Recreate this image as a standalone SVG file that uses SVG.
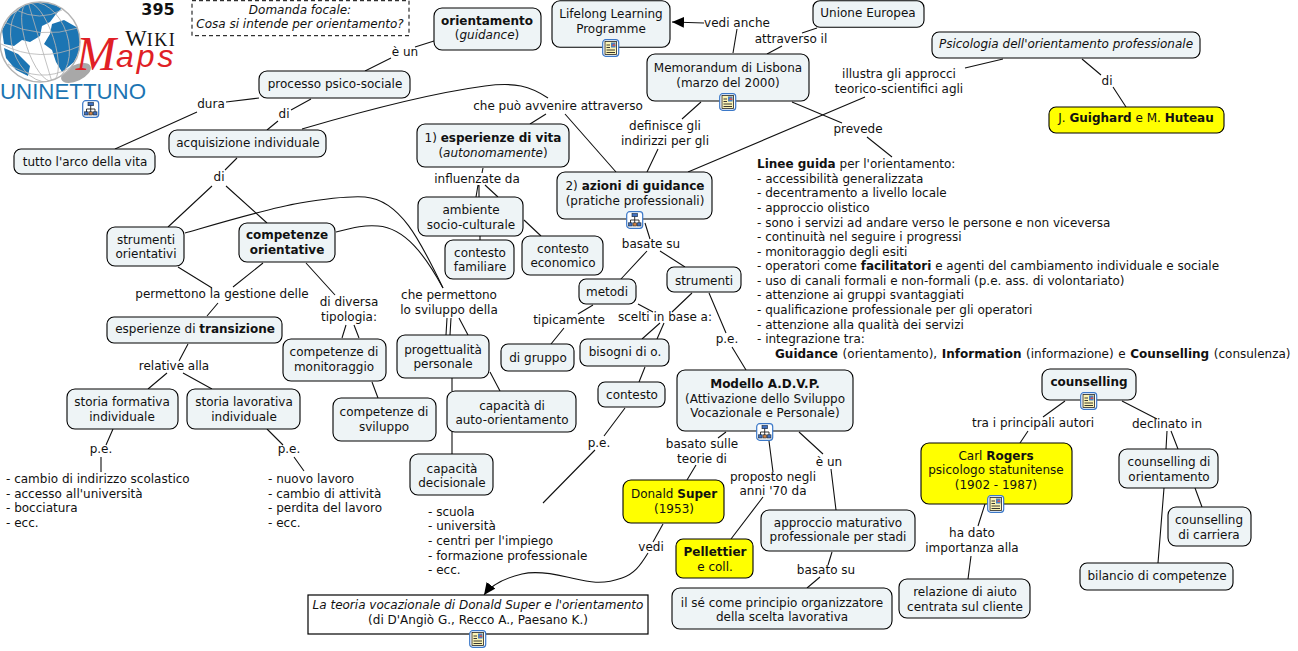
<svg xmlns="http://www.w3.org/2000/svg" xmlns:xlink="http://www.w3.org/1999/xlink" width="1298" height="651" viewBox="0 0 1298 651">
<style>
text{font-family:"DejaVu Sans","Liberation Sans",sans-serif;font-size:12px;fill:#111}
.m{text-anchor:middle}
.b{font-weight:bold}
.i{font-style:italic}
.n{fill:#eef4f6;stroke:#000;stroke-width:1.1}
.y{fill:#ffff00;stroke:#000;stroke-width:1.1}
#connectors path{fill:none;stroke:#111;stroke-width:1.1}
.g{fill:none;stroke:#b4b4b4;stroke-width:0.8}
</style>
<defs>
<marker id="arr" markerUnits="userSpaceOnUse" markerWidth="14" markerHeight="12" refX="12" refY="5.5" orient="auto"><path d="M0,0L12,5.5L0,11z" fill="#000"/></marker>
<clipPath id="gc"><circle cx="40" cy="42" r="40"/></clipPath>
<g id="doc"><rect x="0.7" y="0.7" width="16" height="16.6" rx="3" fill="#fff" stroke="#3b78c8" stroke-width="1.2"/><rect x="3" y="2.5" width="11.5" height="13" fill="#fbf3b4" stroke="#222" stroke-width="0.8"/><path d="M4.5,6H8M4.5,8.5H8M4.5,11H13M4.5,13.5H13" stroke="#222" stroke-width="0.9"/><rect x="9" y="3.5" width="4.5" height="5" fill="#4a7fc0"/><path d="M10,7l2,-2.5l1.5,2.5z" fill="#d05555"/></g>
<g id="hier"><rect x="0.7" y="0.7" width="16" height="16.6" rx="3" fill="#fff" stroke="#3b78c8" stroke-width="1.2"/><path d="M8.7,5V9M4.5,12V9H13V12M8.7,9V12" fill="none" stroke="#222" stroke-width="0.9"/><rect x="6" y="2.5" width="5.5" height="3.2" fill="#3f6fc0" stroke="#123" stroke-width="0.6"/><rect x="2.5" y="11.8" width="3.6" height="3.2" fill="#3f6fc0" stroke="#123" stroke-width="0.6"/><rect x="7" y="11.8" width="3.6" height="3.2" fill="#d08040" stroke="#123" stroke-width="0.6"/><rect x="11.4" y="11.8" width="3.6" height="3.2" fill="#3f6fc0" stroke="#123" stroke-width="0.6"/></g>
</defs>
<rect width="1298" height="651" fill="#fff"/>

<g id="logo">
<ellipse cx="76" cy="73" rx="16" ry="8" fill="#a8a8a8" transform="rotate(-25 76 73)"/>
<circle cx="40" cy="42" r="40" fill="#fff"/>
<g clip-path="url(#gc)">
<path d="M2,30L10,16L26,4L44,0L62,8L56,14L50,22L42,26L40,36L30,42L22,40L14,46L4,44z" fill="#1c75b3"/>
<path d="M52,24L64,20L78,28L82,46L74,62L62,72L56,62L52,50L44,44L50,34z" fill="#1c75b3"/>
<path d="M4,48L18,54L30,66L28,76L16,70L6,58z" fill="#1c75b3"/>
<ellipse class="g" cx="40" cy="42" rx="14" ry="41" transform="rotate(-18 40 42)"/>
<ellipse class="g" cx="40" cy="42" rx="28" ry="41" transform="rotate(-18 40 42)"/>
<path class="g" d="M28,2L52,82M4,22Q40,40 78,28M1,44Q40,64 80,46M8,64Q40,84 70,68M16,10Q40,22 62,10"/>
</g>
<circle cx="40" cy="42" r="40" fill="none" stroke="#b4b4b4" stroke-width="1.4"/>
<text x="125" y="46" style="font-family:'Liberation Serif',serif;font-size:23px">W<tspan style="font-size:18px;letter-spacing:1.5px">IKI</tspan></text>
<text x="76" y="70" style="font-family:'Liberation Serif',serif;font-style:italic;font-size:48px;fill:#e01f26">M<tspan dy="-3" style="font-size:32px;letter-spacing:3px;font-family:'Liberation Sans',sans-serif">aps</tspan></text>
<text x="0" y="99" textLength="146" lengthAdjust="spacingAndGlyphs" style="font-family:'Liberation Sans',sans-serif;font-size:22px;fill:#1c75b3">UNINETTUNO</text>
<use href="#hier" x="82" y="100"/>
</g>
<text x="158" y="15" class="m b" style="font-size:16px">395</text>

<g id="connectors">
<path d="M434,41L415,47M391,58L365,71"/>
<path d="M259,98L226,102M197,112L115,149"/>
<path d="M311,99L291,110M278,121L267,130"/>
<path d="M302,129C370,109 440,92 485,86C515,82 530,86 548,98"/>
<path d="M546,114L530,124M565,114L616,172"/>
<path d="M237,158L225,170M212,186L168,227M226,186L267,223"/>
<path d="M185,233C230,220 270,208 300,203C330,198 350,196 365,197C400,200 420,240 443,288"/>
<path d="M336,232C355,227 365,225 378,226C405,228 425,255 443,288"/>
<path d="M178,267L212,288M263,263L233,287M218,303L207,316"/>
<path d="M306,263L335,295M346,325L342,338M354,325L359,338M372,382L378,398"/>
<path d="M447,318L446,335M451,318L450,335M459,318L468,335"/>
<path d="M490,372L500,391M452,378V391M452,432V454"/>
<path d="M483,168L482,173M478,185L476,197M479,185V197M485,185L498,197"/>
<path d="M480,236V240M524,220L541,236"/>
<path d="M701,102L682,119M658,149L647,172"/>
<path d="M865,97L688,172M1003,59L965,68"/>
<path d="M792,102L842,123M867,137L892,157"/>
<path d="M733,53L737,29"/>
<path d="M704,23L672,22" marker-end="url(#arr)"/>
<path d="M817,28L802,33M782,46L767,54"/>
<path d="M1082,59L1101,75M1113,87L1126,107"/>
<path d="M645,223L650,239M647,251L621,279M660,251L685,267"/>
<path d="M593,305L578,314M564,328L551,344"/>
<path d="M638,304L653,312M692,293L672,312M660,323L642,339M664,323L657,339"/>
<path d="M645,367L639,382M625,408L604,436M595,450L543,503"/>
<path d="M709,293L726,333M732,347L746,370"/>
<path d="M726,432L718,438M696,465L687,480"/>
<path d="M769,441L773,472M763,497L731,539"/>
<path d="M799,432L823,454M831,469L836,510"/>
<path d="M832,552L828,565M820,577L807,588"/>
<path d="M663,524L653,542"/>
<path d="M648,553C640,566 634,574 622,578C600,586 585,581 567,577C550,573 535,571 522,574C505,578 492,584 484,595" marker-end="url(#arr)"/>
<path d="M113,429L106,445M101,457V472"/>
<path d="M267,429L283,445M294,457L304,471"/>
<path d="M188,344L179,361M167,373L148,389M183,373L212,389"/>
<path d="M1065,401L1043,417M1028,431L1020,443"/>
<path d="M1122,401L1157,419M1167,431L1166,449M1171,431L1178,449"/>
<path d="M1164,488L1158,563M1195,488L1202,507"/>
<path d="M985,504L978,526M971,556L968,579"/>
</g>

<g id="link-labels">
<text x="405" y="56" class="m">è un</text>
<text x="211" y="108" class="m">dura</text>
<text x="284" y="118" class="m">di</text>
<text x="558" y="110" class="m">che può avvenire attraverso</text>
<text x="219" y="181" class="m">di</text>
<text x="222" y="298" class="m">permettono la gestione delle</text>
<text x="349" y="306" class="m">di diversa</text><text x="349" y="321" class="m">tipologia:</text>
<text x="449" y="299" class="m">che permettono</text><text x="449" y="314" class="m">lo sviluppo della</text>
<text x="174" y="370" class="m">relative alla</text>
<text x="101" y="453" class="m">p.e.</text>
<text x="289" y="453" class="m">p.e.</text>
<text x="477" y="183" class="m">influenzate da</text>
<text x="737" y="27" class="m">vedi anche</text>
<text x="791" y="43" class="m">attraverso il</text>
<text x="665" y="130" class="m">definisce gli</text><text x="665" y="145" class="m">indirizzi per gli</text>
<text x="858" y="133" class="m">prevede</text>
<text x="899" y="78" class="m">illustra gli approcci</text><text x="899" y="93" class="m">teorico-scientifici agli</text>
<text x="1107" y="85" class="m">di</text>
<text x="651" y="248" class="m">basate su</text>
<text x="569" y="324" class="m">tipicamente</text>
<text x="665" y="321" class="m">scelti in base a:</text>
<text x="727" y="343" class="m">p.e.</text>
<text x="599" y="447" class="m">p.e.</text>
<text x="702" y="448" class="m">basato sulle</text><text x="702" y="463" class="m">teorie di</text>
<text x="773" y="481" class="m">proposto negli</text><text x="773" y="495" class="m">anni '70 da</text>
<text x="829" y="466" class="m">è un</text>
<text x="651" y="551" class="m">vedi</text>
<text x="826" y="574" class="m">basato su</text>
<text x="1033" y="427" class="m">tra i principali autori</text>
<text x="1167" y="428" class="m">declinato in</text>
<text x="972" y="537" class="m">ha dato</text><text x="972" y="552" class="m">importanza alla</text>
</g>

<g id="focal"><rect x="192" y="0.7" width="217" height="35" fill="#fff" stroke="#000" stroke-width="1" stroke-dasharray="4 3"/><text x="300" y="14" class="m i">Domanda focale:</text><text x="300" y="28" class="m i">Cosa si intende per orientamento?</text></g>
<g id="orientamento"><rect class="n" x="434" y="8" width="107" height="42" rx="8"/><text x="487" y="25" class="m b">orientamento</text><text x="487" y="39" class="m">(<tspan class="i">guidance</tspan>)</text></g>
<g id="processo"><rect class="n" x="259" y="71" width="151" height="27" rx="8"/><text x="335" y="88" class="m">processo psico-sociale</text></g>
<g id="acquisizione"><rect class="n" x="169" y="130" width="157" height="27" rx="8"/><text x="248" y="147" class="m">acquisizione individuale</text></g>
<g id="tutto"><rect class="n" x="14" y="149" width="141" height="25" rx="7"/><text x="85" y="166" class="m">tutto l'arco della vita</text></g>
<g id="lifelong"><rect class="n" x="552" y="0.7" width="118" height="46.5" rx="8"/><text x="611" y="18" class="m">Lifelong Learning</text><text x="611" y="33" class="m">Programme</text><use href="#doc" x="602" y="39"/></g>
<g id="unione"><rect class="n" x="813" y="0.7" width="111" height="26.5" rx="7"/><text x="868" y="17" class="m">Unione Europea</text></g>
<g id="memorandum"><rect class="n" x="647" y="54" width="162" height="47" rx="8"/><text x="728" y="72" class="m">Memorandum di Lisbona</text><text x="728" y="87" class="m">(marzo del 2000)</text><use href="#doc" x="719" y="93"/></g>
<g id="psicologia"><rect class="n" x="932" y="32" width="268" height="26" rx="7"/><text x="1066" y="48" class="m i">Psicologia dell'orientamento professionale</text></g>
<g id="guighard"><rect class="y" x="1049" y="107" width="175" height="26" rx="7"/><text x="1136" y="122" class="m">J. <tspan class="b">Guighard</tspan> e M. <tspan class="b">Huteau</tspan></text></g>
<g id="strumenti-orientativi"><rect class="n" x="107" y="227" width="77" height="39" rx="8"/><text x="146" y="244" class="m">strumenti</text><text x="146" y="258" class="m">orientativi</text></g>
<g id="competenze-orientative"><rect class="n" x="239" y="223" width="96" height="39" rx="8"/><text x="287" y="239" class="m b">competenze</text><text x="287" y="254" class="m b">orientative</text></g>
<g id="transizione"><rect class="n" x="107" y="317" width="175" height="26" rx="7"/><text x="195" y="333" class="m">esperienze di <tspan class="b">transizione</tspan></text></g>
<g id="monitoraggio"><rect class="n" x="283" y="339" width="103" height="42" rx="8"/><text x="334" y="356" class="m">competenze di</text><text x="334" y="371" class="m">monitoraggio</text></g>
<g id="sviluppo"><rect class="n" x="333" y="398" width="103" height="43" rx="8"/><text x="384" y="416" class="m">competenze di</text><text x="384" y="431" class="m">sviluppo</text></g>
<g id="progettualita"><rect class="n" x="397" y="335" width="92" height="43" rx="8"/><text x="443" y="354" class="m">progettualità</text><text x="443" y="368" class="m">personale</text></g>
<g id="auto-orientamento"><rect class="n" x="447" y="391" width="129" height="41" rx="8"/><text x="512" y="410" class="m">capacità di</text><text x="512" y="424" class="m">auto-orientamento</text></g>
<g id="decisionale"><rect class="n" x="410" y="454" width="83" height="41" rx="8"/><text x="452" y="473" class="m">capacità</text><text x="452" y="487" class="m">decisionale</text></g>
<g id="storia-formativa"><rect class="n" x="67" y="389" width="111" height="40" rx="8"/><text x="122" y="406" class="m">storia formativa</text><text x="122" y="421" class="m">individuale</text></g>
<g id="storia-lavorativa"><rect class="n" x="187" y="389" width="113" height="40" rx="8"/><text x="244" y="406" class="m">storia lavorativa</text><text x="244" y="421" class="m">individuale</text></g>
<g id="esperienze-vita"><rect class="n" x="417" y="124" width="152" height="43" rx="8"/><text x="493" y="142" class="m">1) <tspan class="b">esperienze di vita</tspan></text><text x="493" y="157" class="m">(<tspan class="i">autonomamente</tspan>)</text></g>
<g id="ambiente"><rect class="n" x="418" y="197" width="105" height="39" rx="8"/><text x="471" y="214" class="m">ambiente</text><text x="471" y="229" class="m">socio-culturale</text></g>
<g id="familiare"><rect class="n" x="445" y="240" width="69" height="39" rx="8"/><text x="480" y="257" class="m">contesto</text><text x="480" y="271" class="m">familiare</text></g>
<g id="economico"><rect class="n" x="522" y="236" width="81" height="39" rx="8"/><text x="563" y="253" class="m">contesto</text><text x="563" y="267" class="m">economico</text></g>
<g id="azioni"><rect class="n" x="557" y="172" width="155" height="47" rx="8"/><text x="635" y="190" class="m">2) <tspan class="b">azioni di guidance</tspan></text><text x="635" y="205" class="m">(pratiche professionali)</text><use href="#hier" x="626" y="211"/></g>
<g id="strumenti"><rect class="n" x="667" y="267" width="74" height="25" rx="7"/><text x="704" y="285" class="m">strumenti</text></g>
<g id="metodi"><rect class="n" x="579" y="279" width="57" height="25" rx="7"/><text x="607" y="296" class="m">metodi</text></g>
<g id="gruppo"><rect class="n" x="501" y="344" width="73" height="27" rx="7"/><text x="538" y="362" class="m">di gruppo</text></g>
<g id="bisogni"><rect class="n" x="580" y="339" width="89" height="27" rx="7"/><text x="625" y="356" class="m">bisogni di o.</text></g>
<g id="contesto"><rect class="n" x="598" y="382" width="67" height="25" rx="7"/><text x="632" y="399" class="m">contesto</text></g>
<g id="modello"><rect class="n" x="677" y="370" width="176" height="61" rx="8"/><text x="765" y="388" class="m b">Modello A.D.V.P.</text><text x="765" y="403" class="m">(Attivazione dello Sviluppo</text><text x="765" y="417" class="m">Vocazionale e Personale)</text><use href="#hier" x="756" y="423"/></g>
<g id="super"><rect class="y" x="623" y="480" width="101" height="43" rx="8"/><text x="674" y="498" class="m">Donald <tspan class="b">Super</tspan></text><text x="674" y="513" class="m">(1953)</text></g>
<g id="pellettier"><rect class="y" x="676" y="539" width="77" height="39" rx="7"/><text x="715" y="556" class="m b">Pellettier</text><text x="715" y="571" class="m">e coll.</text></g>
<g id="approccio"><rect class="n" x="761" y="510" width="154" height="41" rx="8"/><text x="838" y="527" class="m">approccio maturativo</text><text x="838" y="541" class="m">professionale per stadi</text></g>
<g id="se"><rect class="n" x="672" y="588" width="220" height="41" rx="8"/><text x="782" y="607" class="m">il sé come principio organizzatore</text><text x="782" y="621" class="m">della scelta lavorativa</text></g>
<g id="teoria"><rect x="308" y="595" width="340" height="39" fill="#fff" stroke="#000" stroke-width="1.2"/><text x="478" y="609" class="m i">La teoria vocazionale di Donald Super e l'orientamento</text><text x="478" y="624" class="m">(di D'Angiò G., Recco A., Paesano K.)</text><use href="#doc" x="469" y="630"/></g>
<g id="counselling"><rect class="n" x="1042" y="369" width="94" height="31" rx="8"/><text x="1089" y="386" class="m b">counselling</text><use href="#doc" x="1080" y="392"/></g>
<g id="rogers"><rect class="y" x="921" y="443" width="151" height="61" rx="8"/><text x="996" y="460" class="m">Carl <tspan class="b">Rogers</tspan></text><text x="996" y="474" class="m">psicologo statunitense</text><text x="996" y="489" class="m">(1902 - 1987)</text><use href="#doc" x="987" y="495"/></g>
<g id="counselling-orientamento"><rect class="n" x="1119" y="449" width="99" height="39" rx="8"/><text x="1169" y="466" class="m">counselling di</text><text x="1169" y="481" class="m">orientamento</text></g>
<g id="carriera"><rect class="n" x="1168" y="507" width="83" height="39" rx="8"/><text x="1209" y="524" class="m">counselling</text><text x="1209" y="539" class="m">di carriera</text></g>
<g id="bilancio"><rect class="n" x="1080" y="563" width="153" height="27" rx="7"/><text x="1157" y="580" class="m">bilancio di competenze</text></g>
<g id="relazione"><rect class="n" x="899" y="579" width="131" height="39" rx="8"/><text x="965" y="596" class="m">relazione di aiuto</text><text x="965" y="611" class="m">centrata sul cliente</text></g>

<g id="linee-guida">
<text x="757" y="168"><tspan class="b">Linee guida</tspan> per l'orientamento:</text>
<text x="757" y="183">- accessibilità generalizzata</text>
<text x="757" y="197">- decentramento a livello locale</text>
<text x="757" y="212">- approccio olistico</text>
<text x="757" y="227">- sono i servizi ad andare verso le persone e non viceversa</text>
<text x="757" y="241">- continuità nel seguire i progressi</text>
<text x="757" y="256">- monitoraggio degli esiti</text>
<text x="757" y="270">- operatori come <tspan class="b">facilitatori</tspan> e agenti del cambiamento individuale e sociale</text>
<text x="757" y="285">- uso di canali formali e non-formali (p.e. ass. di volontariato)</text>
<text x="757" y="299">- attenzione ai gruppi svantaggiati</text>
<text x="757" y="314">- qualificazione professionale per gli operatori</text>
<text x="757" y="329">- attenzione alla qualità dei servizi</text>
<text x="757" y="343">- integrazione tra:</text>
<text x="775" y="358" style="word-spacing:0.8px"><tspan class="b">Guidance</tspan> (orientamento), <tspan class="b">Information</tspan> (informazione) e <tspan class="b">Counselling</tspan> (consulenza)</text>
</g>
<g id="lista-formativa">
<text x="6" y="483">- cambio di indirizzo scolastico</text><text x="6" y="498">- accesso all'università</text><text x="6" y="512">- bocciatura</text><text x="6" y="527">- ecc.</text>
</g>
<g id="lista-lavorativa">
<text x="268" y="483">- nuovo lavoro</text><text x="268" y="498">- cambio di attività</text><text x="268" y="512">- perdita del lavoro</text><text x="268" y="527">- ecc.</text>
</g>
<g id="lista-contesto">
<text x="428" y="516">- scuola</text><text x="428" y="530">- università</text><text x="428" y="545">- centri per l'impiego</text><text x="428" y="560">- formazione professionale</text><text x="428" y="574">- ecc.</text>
</g>
</svg>
